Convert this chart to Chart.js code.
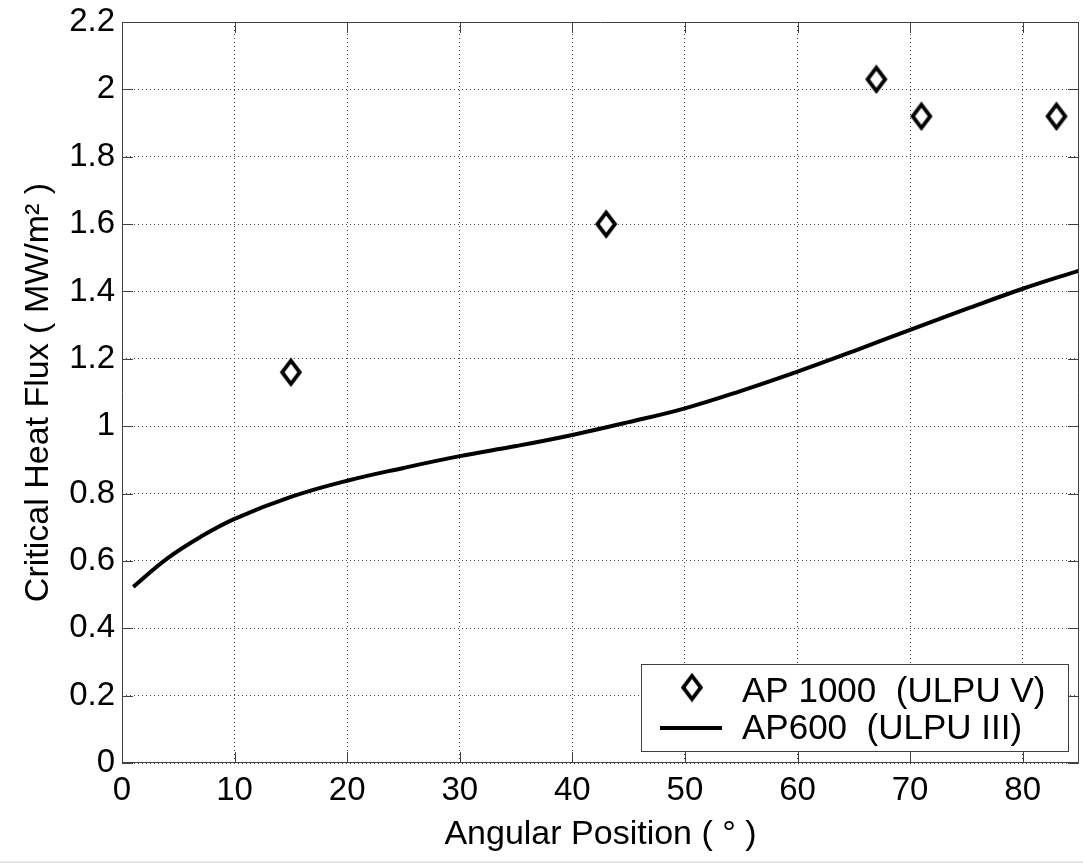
<!DOCTYPE html>
<html>
<head>
<meta charset="utf-8">
<title>Critical Heat Flux</title>
<script src="https://cdn.jsdelivr.net/npm/chart.js@4.4.1/dist/chart.umd.min.js"></script>
<style>
  html, body { margin: 0; padding: 0; background: #fff; }
  canvas { display: block; }
</style>
</head>
<body>
<canvas id="chart-chf" width="1083" height="863"></canvas>
<script>
const xTicks = [0, 10, 20, 30, 40, 50, 60, 70, 80];
const yTicks = [0, 0.2, 0.4, 0.6, 0.8, 1, 1.2, 1.4, 1.6, 1.8, 2, 2.2];

// AP 1000 (ULPU V) measured points
const ap1000Angles = [15, 43, 67, 71, 83];
const ap1000Flux = [1.16, 1.6, 2.03, 1.92, 1.92];

// AP600 (ULPU III) correlation curve
const ap600Angles = [1, 4, 7, 10, 15, 20, 25, 30, 35, 40, 45, 50, 55, 60, 65, 70, 75, 80, 85];
const ap600Flux = [0.523, 0.607, 0.672, 0.725, 0.79, 0.838, 0.876, 0.911, 0.941, 0.974, 1.012, 1.053, 1.105, 1.162, 1.223, 1.286, 1.348, 1.408, 1.462];

const fontFamily = "'Liberation Sans', Arial, sans-serif";
Chart.defaults.font.family = fontFamily;
Chart.defaults.color = "#000";

// diamond marker like matlab 'd'
function makeDiamond() {
  const c = document.createElement("canvas");
  c.width = 24;
  c.height = 30;
  const g = c.getContext("2d");
  g.lineWidth = 3.8;
  g.beginPath();
  g.moveTo(12, 3.4);
  g.lineTo(20.8, 15);
  g.lineTo(12, 26.6);
  g.lineTo(3.2, 15);
  g.closePath();
  g.fillStyle = "#fff";
  g.fill();
  g.strokeStyle = "#000";
  g.stroke();
  return c;
}
const diamond = makeDiamond();

const matlabFrame = {
  id: "matlabFrame",
  beforeDraw(chart) {
    const ctx = chart.ctx;
    ctx.save();
    ctx.fillStyle = "#fff";
    ctx.fillRect(0, 0, chart.width, chart.height);
    ctx.fillStyle = "#e4e4e4";
    ctx.fillRect(0, chart.height - 2, chart.width, 2);
    ctx.restore();
  },
  afterDraw(chart) {
    const ctx = chart.ctx;
    const { left, right, top, bottom } = chart.chartArea;
    const xs = chart.scales.x;
    const ys = chart.scales.y;
    const tl = 11;
    ctx.save();
    ctx.strokeStyle = "#404040";
    ctx.lineWidth = 1;
    ctx.beginPath();
    ctx.rect(left + 0.5, top + 0.5, right - left - 1, bottom - top - 1);
    xTicks.forEach((v) => {
      const px = Math.round(xs.getPixelForValue(v)) + 0.5;
      ctx.moveTo(px, bottom);
      ctx.lineTo(px, bottom - tl);
      ctx.moveTo(px, top);
      ctx.lineTo(px, top + tl);
    });
    yTicks.forEach((v) => {
      const py = Math.round(ys.getPixelForValue(v)) + 0.5;
      ctx.moveTo(left, py);
      ctx.lineTo(left + tl, py);
      ctx.moveTo(right, py);
      ctx.lineTo(right - tl, py);
    });
    ctx.stroke();

    // legend box, bottom right inside axes
    const bw = 427, bh = 87;
    const bx = right - 11 - bw;
    const by = bottom - 12 - bh;
    ctx.fillStyle = "#fff";
    ctx.fillRect(bx, by, bw, bh);
    ctx.strokeStyle = "#404040";
    ctx.strokeRect(bx + 0.5, by + 0.5, bw, bh);

    const ds = chart.data.datasets;
    ctx.drawImage(diamond, bx + 51 - diamond.width / 2, by + 23.5 - diamond.height / 2);
    ctx.strokeStyle = "#000";
    ctx.lineWidth = 4;
    ctx.beginPath();
    ctx.moveTo(bx + 19, by + 64);
    ctx.lineTo(bx + 81, by + 64);
    ctx.stroke();

    ctx.fillStyle = "#000";
    ctx.font = "35px " + fontFamily;
    ctx.textBaseline = "alphabetic";
    ctx.textAlign = "left";
    ctx.fillText(ds[0].label, bx + 101, by + 37.7);
    ctx.fillText(ds[1].label, bx + 101, by + 75.3);
    ctx.restore();
  },
};

const chartChf = new Chart(document.querySelector("#chart-chf"), {
  type: "scatter",
  data: {
    datasets: [
      {
        label: "AP 1000  (ULPU V)",
        data: ap1000Angles.map((a, i) => ({ x: a, y: ap1000Flux[i] })),
        pointStyle: diamond,
        pointRadius: 12,
      },
      {
        label: "AP600  (ULPU III)",
        data: ap600Angles.map((a, i) => ({ x: a, y: ap600Flux[i] })),
        showLine: true,
        borderColor: "#000",
        borderWidth: 4,
        pointRadius: 0,
        tension: 0.4,
      },
    ],
  },
  options: {
    responsive: false,
    animation: false,
    layout: { autoPadding: false, padding: { top: 22, right: 4, left: 0, bottom: 0 } },
    plugins: {
      legend: { display: false },
      tooltip: { enabled: false },
    },
    scales: {
      x: {
        type: "linear",
        min: 0,
        max: 85,
        afterBuildTicks: (s) => {
          s.ticks = xTicks.map((v) => ({ value: v }));
        },
        afterFit: (s) => {
          s.height = 100;
          s.paddingLeft = 0;
          s.paddingRight = 0;
        },
        ticks: {
          font: { size: 33 },
          padding: 8,
          maxRotation: 0,
        },
        grid: { color: "#444", drawTicks: false },
        border: { display: false, dash: [1, 3] },
        title: {
          display: true,
          text: "Angular Position ( ° )",
          font: { size: 34 },
          padding: { top: 0, bottom: 8 },
        },
      },
      y: {
        type: "linear",
        min: 0,
        max: 2.2,
        afterBuildTicks: (s) => {
          s.ticks = yTicks.map((v) => ({ value: v }));
        },
        afterFit: (s) => {
          s.width = 122;
          s.paddingTop = 0;
          s.paddingBottom = 0;
        },
        ticks: {
          font: { size: 33 },
          padding: 7,
          callback: (v) => String(+v.toFixed(1)),
        },
        grid: { color: "#444", drawTicks: false },
        border: { display: false, dash: [1, 3] },
        title: {
          display: true,
          text: "Critical Heat Flux ( MW/m² )",
          font: { size: 34 },
          padding: { top: 18, bottom: 0 },
        },
      },
    },
  },
  plugins: [matlabFrame],
});
</script>
</body>
</html>
